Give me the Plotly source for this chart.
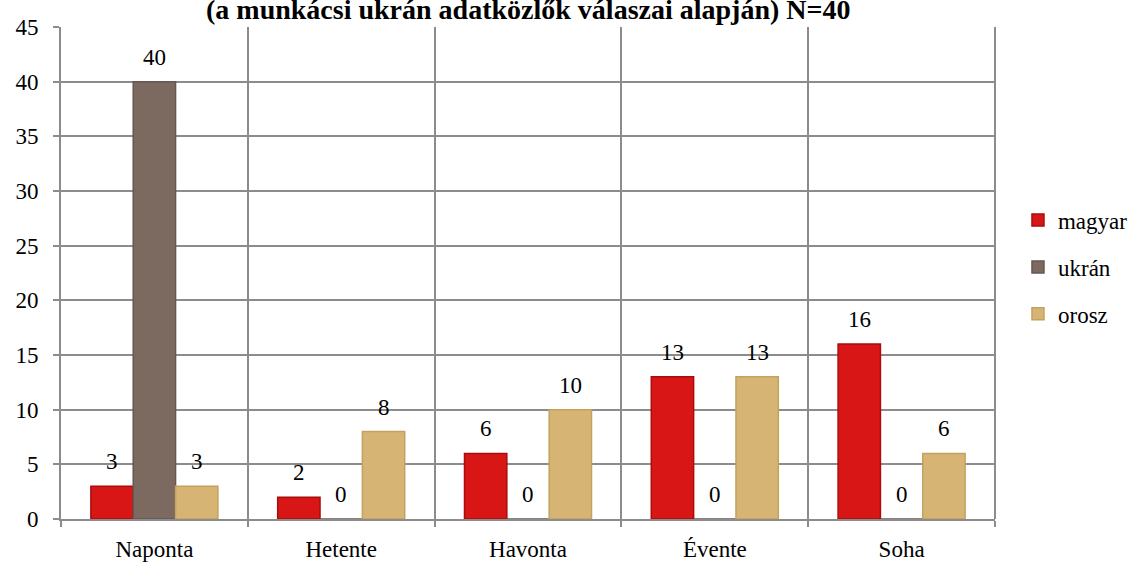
import plotly.graph_objects as go

categories = ["Naponta", "Hetente", "Havonta", "Évente", "Soha"]
series_names = ["magyar", "ukrán", "orosz"]
magyar = [3, 2, 6, 13, 16]
ukran = [40, 0, 0, 0, 0]
orosz = [3, 8, 10, 13, 6]
y_ticks = [0, 5, 10, 15, 20, 25, 30, 35, 40, 45]
title_text = "(a munkácsi ukrán adatközlők válaszai alapján) N=40"

values = [magyar, ukran, orosz]
fills = ["#d91616", "#7c6a60", "#d6b574"]
lines = ["#a80c0c", "#675750", "#c4a15e"]

FONT = "Liberation Serif"
FS = 23

fig = go.Figure()
for name, vals, fc, lc in zip(series_names, values, fills, lines):
    fig.add_trace(go.Bar(
        name=name, x=categories, y=vals,
        marker=dict(color=fc, line=dict(color=lc, width=1.5)),
        legendgroup=name,
    ))

plot_w = 1139 - 61 - 144
cat_w = plot_w / len(categories)
bargap = 0.32
bar_w = cat_w * (1 - bargap) / 3
for i, vals in enumerate(values):
    for c, v in zip(categories, vals):
        fig.add_annotation(
            x=c, y=v, text=str(v), showarrow=False,
            xshift=(i - 1) * bar_w, yanchor="bottom", yshift=10,
            font=dict(family=FONT, size=FS, color="#000"),
        )

fig.add_annotation(
    x=0.5, xref="paper", y=1.0, yref="paper", yshift=0,
    text="<b>" + title_text + "</b>", showarrow=False, yanchor="bottom",
    font=dict(family=FONT, size=28, color="#000"),
)

fig.update_layout(
    width=1139, height=563,
    margin=dict(l=61, r=144, t=27, b=44, autoexpand=False),
    paper_bgcolor="white", plot_bgcolor="white",
    barmode="group", bargap=bargap, bargroupgap=0,
    font=dict(family=FONT, size=FS, color="#000"),
    showlegend=True,
    legend=dict(x=1.0246, y=0.512, xanchor="left", yanchor="middle",
                font=dict(family=FONT, size=FS), tracegroupgap=14,
                itemwidth=30, bgcolor="rgba(0,0,0,0)"),
)
fig.update_xaxes(
    type="category", tickson="boundaries", showgrid=True, gridcolor="#8c8c8c", gridwidth=2,
    showline=True, linecolor="#8c8c8c", linewidth=2,
    ticks="outside", ticklen=6, tickcolor="#8c8c8c", tickwidth=2,
    tickfont=dict(family=FONT, size=FS), ticklabelstandoff=8, automargin=False,
)
fig.update_yaxes(
    range=[0, 45], tickvals=y_ticks, showgrid=True, gridcolor="#8c8c8c", gridwidth=2,
    showline=True, linecolor="#8c8c8c", linewidth=2,
    ticks="outside", ticklen=6, tickcolor="#8c8c8c", tickwidth=2,
    tickfont=dict(family=FONT, size=FS), zeroline=False, ticklabelstandoff=10,
    automargin=False,
)
fig.add_shape(type="line", xref="paper", yref="paper", x0=1, x1=1, y0=0, y1=1,
              line=dict(color="#8c8c8c", width=2))

fig.write_html("out.html", config={"displayModeBar": False},
               post_script="document.body.style.margin='0';")
